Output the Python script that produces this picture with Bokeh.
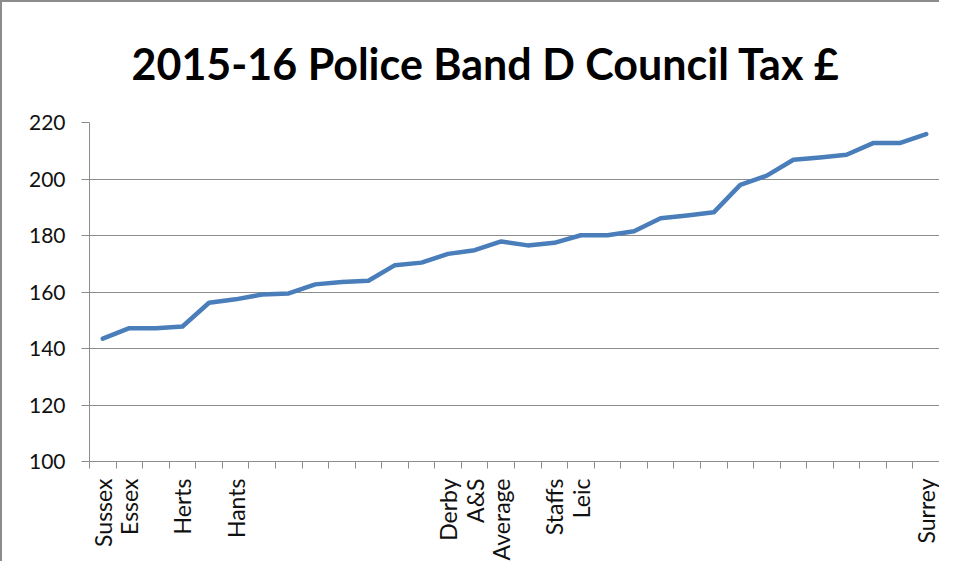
import math
from bokeh.plotting import figure
from bokeh.models import FixedTicker, Title, ColumnDataSource, Range1d
from bokeh.embed import file_html
from bokeh.resources import INLINE

# ---- data ----
forces = ["Sussex", "Essex", "", "Herts", "", "Hants", "", "", "", "", "",
          "", "", "Derby", "A&S", "Average", "", "Staffs", "Leic", "", "",
          "", "", "", "", "", "", "", "", "", "", "Surrey"]
band_d = [143.5, 147.2, 147.2, 147.8, 156.2, 157.4, 159.1, 159.5, 162.7,
          163.5, 164.0, 169.5, 170.4, 173.5, 174.8, 177.9, 176.5, 177.4,
          180.1, 180.1, 181.5, 186.1, 187.1, 188.2, 197.9, 201.2, 206.8,
          207.6, 208.6, 212.7, 212.7, 215.9]
y_ticks = [100, 120, 140, 160, 180, 200, 220]
title_text = "2015-16 Police Band D Council Tax £"

n = len(band_d)
xpos = [i + 0.5 for i in range(n)]
src = ColumnDataSource(dict(x=xpos, y=band_d))

FONT = "Lato"
GRAY = "#8c8c8c"

p = figure(width=939, height=561, output_backend="svg", toolbar_location=None,
           x_range=Range1d(0, n), y_range=Range1d(y_ticks[0], y_ticks[-1]),
           min_border_left=87, min_border_right=2, min_border_top=24,
           min_border_bottom=99, outline_line_color=None)
p.styles = {"border-left": f"2px solid {GRAY}", "border-top": f"2px solid {GRAY}"}

t = Title(text=title_text, align="left", offset=42, text_font=FONT,
          text_font_size="43px", text_font_style="bold", text_color="black",
          standoff=67)
p.add_layout(t, "above")

p.line("x", "y", source=src, line_color="#4a7ebb", line_width=4.5,
       line_join="round", line_cap="round")

# x axis: labels at category centres, tick marks at category boundaries
xa = p.xaxis[0]
xa.ticker = FixedTicker(ticks=xpos, minor_ticks=list(range(n + 1)))
xa.major_label_overrides = {x: lab for x, lab in zip(xpos, forces)}
xa.major_label_orientation = math.pi / 2
xa.major_tick_in = 0
xa.major_tick_out = 0
xa.minor_tick_in = 0
xa.minor_tick_out = 7
xa.minor_tick_line_color = GRAY
xa.axis_line_color = GRAY
xa.major_label_standoff = 10
xa.major_label_text_font = FONT
xa.major_label_text_font_size = "23px"
xa.major_label_text_color = "#111111"

ya = p.yaxis[0]
ya.ticker = FixedTicker(ticks=y_ticks)
ya.major_tick_in = 0
ya.major_tick_out = 8
ya.minor_tick_line_color = None
ya.major_tick_line_color = GRAY
ya.axis_line_color = GRAY
ya.major_label_standoff = 16
ya.major_label_text_font = FONT
ya.major_label_text_font_size = "21px"
ya.major_label_text_color = "#111111"

p.xgrid.grid_line_color = None
p.ygrid.grid_line_color = GRAY
p.ygrid.grid_line_width = 1

open("out.html", "w").write(file_html(p, INLINE))
